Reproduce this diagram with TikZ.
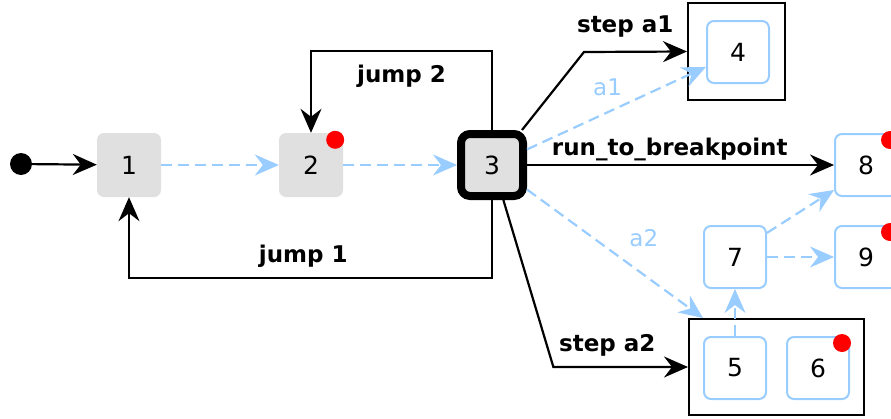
\documentclass[tikz,border=0pt]{standalone}
\usepackage{fontspec}
\setmainfont{DejaVu Sans}
\usetikzlibrary{arrows.meta}

\definecolor{stateblue}{RGB}{153,204,255}
\definecolor{stategray}{RGB}{224,224,224}

\tikzset{
	gstate/.style = {fill = stategray, rounded corners = 7pt, minimum size = 64pt, font = \fontsize{25}{30}\selectfont},
	bstate/.style = {draw = stateblue, line width = 2pt, rounded corners = 7pt, minimum size = 62pt, font = \fontsize{25}{30}\selectfont},
	boxgroup/.style = {draw, line width = 2pt},
	bp/.style = {circle, fill = red, minimum size = 18pt, inner sep = 0pt, xshift = -8pt, yshift = -7pt},
	ctrl/.style = {line width = 2.2pt, -{Stealth[length = 24pt, width = 21pt, inset = 8pt]}},
	flow/.style = {stateblue, line width = 2.2pt, dash pattern = on 11pt off 6pt, -{Stealth[length = 24pt, width = 21pt, inset = 8pt]}},
	lbl/.style = {font = \bfseries\fontsize{23}{28}\selectfont},
	flbl/.style = {stateblue, font = \fontsize{23}{28}\selectfont}
}

\begin{document}
\begin{tikzpicture}[x = 1pt, y = -1pt]
	\useasboundingbox (0,0) rectangle (891,418);

	\node (start)[circle, fill, minimum size = 22pt, inner sep = 0pt] at(21,164) {};
	\node (n1)[gstate] at(129,165) {1};
	\node (n2)[gstate] at(311,165) {2};
	\node (n3)[gstate, draw, line width = 8pt, minimum size = 62pt, rounded corners = 9pt] at(492,165) {3};

	\node (g4)[boxgroup, minimum width = 97pt, minimum height = 97pt] at(736.5,51.5) {};
	\node (n4)[bstate] at(738,52) {4};

	\node (g56)[boxgroup, minimum width = 175pt, minimum height = 96pt] at(776.5,367) {};
	\node (n5)[bstate] at(735,368) {5};
	\node (n6)[bstate] at(818,368) {6};

	\node (n7)[bstate] at(735,257) {7};
	\node (n8)[bstate] at(866,165) {8};
	\node (n9)[bstate] at(866,257) {9};

	% breakpoints
	\node (r2)[bp] at(n2.north east) {};
	\node (r6)[bp] at(n6.north east) {};
	\node (r8)[bp] at(n8.north east) {};
	\node (r9)[bp] at(n9.north east) {};

	\draw [ctrl](start)--(n1);
	\draw [flow](n1)--(n2);
	\draw [flow](n2)--(n3);

	\draw [ctrl](n3.south)--++(0,78) -| node[lbl, pos = 0.26, above = 6pt]{jump 1}(n1.south);
	\draw [ctrl](n3.north)--++(0,-79) -| node[lbl, pos = 0.25, below = 10pt]{jump 2}(n2.north);
	\draw [ctrl]([xshift = -5pt]n3.north east)--++(62,-78)--node[lbl, pos = 0.4, above = 10pt]{step a1}(g4.west);
	\draw [ctrl](n3.east)--node[lbl, pos = 0.465, above = 0pt]{run\_to\_breakpoint}(n8.west);
	\draw [ctrl](n3.-72)--++(50,167)--node[lbl, pos = 0.4, above = 6pt]{step a2}(g56.west);

	\draw [flow](n3.24)--node[flbl, pos = 0.45, above = 12pt]{a1}(n4.205);
	\draw [flow](n3.-35)--node[flbl, pos = 0.55, xshift = 20pt, yshift = 22pt]{a2}(g56.north -| n5.west);

	\draw [flow](n5)--(n7);
	\draw [flow](n7.37)--(n8.218);
	\draw [flow](n7)--(n9);
\end{tikzpicture}
\end{document}
